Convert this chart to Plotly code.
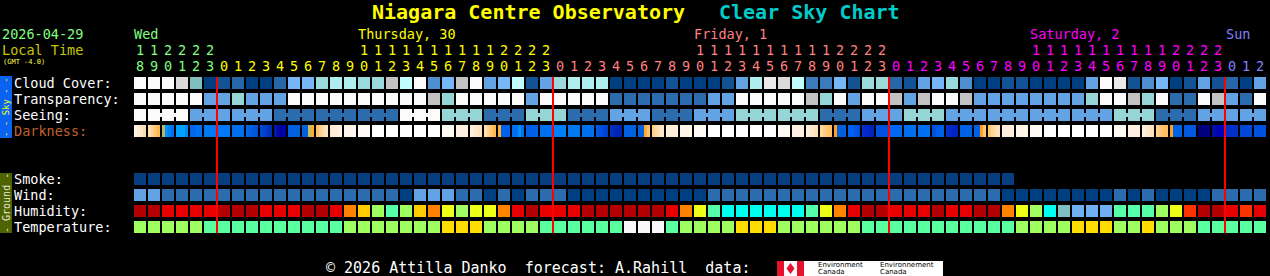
import plotly.graph_objects as go

FIG_W, FIG_H = 1270, 276
MONO = "DejaVu Sans Mono"

# ---------------- text ----------------
TITLE_A = "Niagara Centre Observatory"
TITLE_B = "Clear Sky Chart"
DATE_LABEL = "2026-04-29"
LOCAL_LABEL = "Local Time"
GMT_LABEL = "(GMT -4.0)"
FOOTER = "© 2026 Attilla Danko\u00a0\u00a0forecast: A.Rahill\u00a0\u00a0data:"

# ---------------- hour axis (tick labels) ----------------
WED_HOURS = [18, 19, 20, 21, 22, 23]
THU_HOURS = [0, 1, 2, 3, 4, 5, 6, 7, 8, 9, 10, 11, 12, 13, 14, 15, 16, 17, 18, 19, 20, 21, 22, 23]
FRI_HOURS = [0, 1, 2, 3, 4, 5, 6, 7, 8, 9, 10, 11, 12, 13, 14, 15, 16, 17, 18, 19, 20, 21, 22, 23]
SAT_HOURS = [0, 1, 2, 3, 4, 5, 6, 7, 8, 9, 10, 11, 12, 13, 14, 15, 16, 17, 18, 19, 20, 21, 22, 23]
SUN_HOURS = [0, 1, 2]
DAY_HOURS = [WED_HOURS, THU_HOURS, FRI_HOURS, SAT_HOURS, SUN_HOURS]
DAY_NAMES = ["Wed", "Thursday, 30", "Friday, 1", "Saturday, 2", "Sun"]
DAY_COLORS = ["#80ff80", "#ffff00", "#ff8080", "#ff00ff", "#8080ff"]

ROW_LABELS = ["Cloud Cover:", "Transparency:", "Seeing:", "Darkness:", "", "",
              "Smoke:", "Wind:", "Humidity:", "Temperature:"]

# ---------------- forecast rows (one code per hour) ----------------
CLOUD = list("WWWLT0120026678877G9W" "46GW56915788800001000"
             "158EL9336177215674001" "100005WE1460151205")
TRANSPARENCY = list("WWWWWBBTBBBWWWWWWWWWW" "GTWWWWWBWWWWWDDDDDDDB"
                    "BWWWWWGTWBWWGBGWWGBBB" "BBBBBTWWGTWDDWGBDW")
SEEING = list("WWWWBBBBBBDDDDDDDDDWWW" "TTTDDDTTTDDDBBBDDDBBB"
              "TTTTTTDDDBBBTTTBBBBBB" "BBBBBBTTTDDDBBBBB")
SMOKE = list("SSSSSSSSSSSSSSSSSSSSS" "SSSSSSSSSSSSSSSSSSSSS"
             "SSSSSSSSSSSSSSSSSSSSS" "..................")
WIND = list("LLMMMMMMMMMMMMMMMMMDL" "LLMMDMDMMMDDDDDDDDDDM"
            "MMMMMMMMMMMMMMMMMMMMD" "DDDDDDDMDMDDDDMMMM")
HUMIDITY = list("RRrrrrRRRrrrRRrOYgagY" "OygyyOrRrrrRRRRRRrOya"
                "ccccccayOrRRrrrRrrRRO" "ygctbbbaaagyoRRror")
TEMPERATURE = list("gggggaaaaaaaaaagggggg" "gYYYggggaaaaaaWWWaggg"
                   "gYYYggggggaaaaaaaaaaa" "ggggYYYggYgggaaaaa")

# darkness: colour stops across each hour cell (left -> right)
DARKNESS = [
    ["#fff3e3", "#ffeed6", "#ffe6c4", "#ffdcb0"],  # Wed 18
    ["#ffe0b0", "#ffd090", "#ffc470", "#ffb850"],
    ["#b8b858", "#0090ff", "#0080f8", "#0070f0"],
    ["#00a0ff", "#00a0ff", "#00a0ff", "#0088f8"],
    ["#0066ee", "#0066ee", "#0070f0", "#0070f0"],
    ["#0078f2"],
    ["#0078f8"],                                   # Thu 0
    ["#0070f0"],
    ["#0064e8", "#0060e4", "#0058dc", "#0050d8"],
    ["#0048d8", "#0040d0", "#0038c0", "#0030b0"],
    ["#0018a8", "#0008a0", "#0000a0", "#0000b0"],
    ["#0060e0"],
    ["#0060e0", "#0060e0", "#c0c060", "#ffa830"],
    ["#ffc070", "#ffd090", "#ffdca8", "#ffe4bc"],
    ["#ffeace", "#ffeed8", "#fff0de", "#fff2e2"],
    ["#fff5ea"],
    ["#fffaf4"],
    ["#ffffff"], ["#ffffff"], ["#ffffff"], ["#ffffff"], ["#ffffff"],
    ["#fffaf0"],
    ["#fff0e0"],
    ["#fff0e0", "#ffeace", "#ffe6c6", "#ffe0ba"],
    ["#ffe0b0", "#ffd090", "#ffc470", "#ffb850"],
    ["#ffb030", "#0060f0", "#0060f0", "#0060f0"],
    ["#0070f0", "#0070f0", "#0090ff", "#0070f0"],
    ["#0060e8"],
    ["#0070f0"],
    ["#0080f8"],                                   # Fri 0
    ["#0078f0"],
    ["#0070f0"],
    ["#0058e4", "#0050e0", "#0048d8", "#0040d0"],
    ["#0030c0", "#0028b8", "#0024b4", "#0020b0"],
    ["#0060e0"],
    ["#0060e0", "#0060e0", "#ffa830", "#ffc070"],
    ["#ffd090", "#ffdaa6", "#ffe2b8", "#ffe8c8"],
    ["#ffeed8"],
    ["#fff6ea"],
    ["#fffaf4"],
    ["#ffffff"], ["#ffffff"], ["#ffffff"], ["#ffffff"], ["#ffffff"],
    ["#fffaf0"],
    ["#fff0e0"],
    ["#fff0e0", "#ffeace", "#ffe6c6", "#ffe0ba"],
    ["#ffd8a0", "#ffcc84", "#ffc46c", "#ffc060"],
    ["#ffa020", "#0060e0", "#0060e0", "#0060e0"],
    ["#0060f0", "#0060f0", "#0058e8", "#0050e0"],
    ["#0030d0", "#0028c8", "#0024c4", "#0020c0"],
    ["#0050e0"],
    ["#0068f0"],                                   # Sat 0
    ["#0070f0"],
    ["#0070f0"],
    ["#0050e0", "#0058e4", "#0060e8", "#0060e8"],
    ["#0030d0", "#0028c8", "#0024c4", "#0020c0"],
    ["#0060e8"],
    ["#0060e8", "#0060e8", "#ffa020", "#ffc870"],
    ["#ffc870", "#ffd494", "#ffdcaa", "#ffe2b8"],
    ["#ffeedd"],
    ["#fff4e8"],
    ["#fffaf4"],
    ["#ffffff"], ["#ffffff"], ["#ffffff"], ["#ffffff"], ["#ffffff"],
    ["#fffaf0"],
    ["#fff0e0"],
    ["#fff0e0", "#ffeace", "#ffe6c6", "#ffe0ba"],
    ["#ffd090", "#ffc878", "#ffc068", "#ffc060"],
    ["#ffa020", "#0060e8", "#0060e8", "#0060e8"],
    ["#0058e0"],
    ["#000080", "#000078", "#000080", "#000088"],
    ["#0010a8", "#0008b0", "#0000b8", "#0000c0"],
    ["#0030c8"],                                   # Sun 0
    ["#0048d8"],
    ["#0050e0"],
]

# ---------------- palettes ----------------
CLOUD_PAL = {"0": "#003f7f", "1": "#135393", "2": "#2767a7", "3": "#3b7bbb",
             "4": "#4f8fcf", "5": "#63a3e3", "6": "#77b7f7", "7": "#9adada",
             "8": "#aeeeee", "9": "#c2fefe", "W": "#fbfbfb", "E": "#e9e9e9",
             "L": "#dadada", "G": "#c2c2c2", "T": "#7fbfbf"}
SKY_PAL = {"W": "#fbfbfb", "G": "#c2c2c2", "T": "#95d5d5", "B": "#63a3e3", "D": "#2c6cac"}
SMOKE_PAL = {"S": "#063e7e"}
WIND_PAL = {"L": "#63a3e3", "M": "#2c6cac", "D": "#003f7f"}
HUMID_PAL = {"R": "#b40000", "r": "#e60000", "O": "#ff8200", "o": "#ff3300",
             "Y": "#ffcc00", "y": "#eeff18", "g": "#a0ff60", "a": "#55ffaa",
             "c": "#00ffee", "t": "#7fbfbf", "b": "#70b0f0"}
TEMP_PAL = {"g": "#a0ff60", "a": "#5affa0", "Y": "#ffdd00", "W": "#f8f8f8"}

# ---------------- derived ----------------
HOURS = [h for day in DAY_HOURS for h in day]
N = len(HOURS)
GRID_ROWS = [(CLOUD, CLOUD_PAL), (TRANSPARENCY, SKY_PAL), (SEEING, SKY_PAL), None, None, None,
             (SMOKE, SMOKE_PAL), (WIND, WIND_PAL), (HUMIDITY, HUMID_PAL), (TEMPERATURE, TEMP_PAL)]
NR = len(GRID_ROWS)


def to_colors(codes, pal):
    return [pal.get(c) for c in codes]


row_colors = [to_colors(*r) if r else [None] * N for r in GRID_ROWS]
seeing_cols = row_colors[2]

colors = []
for rc in row_colors:
    for c in rc:
        if c and c not in colors:
            colors.append(c)
for stops in DARKNESS:
    for c in stops:
        if c not in colors:
            colors.append(c)
NC = len(colors)
cidx = {c: k + 0.5 for k, c in enumerate(colors)}
cscale = []
for k, c in enumerate(colors):
    cscale.append([k / NC, c])
    cscale.append([(k + 1) / NC, c])

HALF_W = 6 / 14   # cell half-width in column units (12px of 14px)
HALF_H = 6 / 16   # cell half-height in row units (12px of 16px)

# main grid heatmap (cells with gaps)
xe = []
for i in range(N):
    xe += [i - HALF_W, i + HALF_W]
ye = []
for r in range(NR):
    ye += [r - HALF_H, r + HALF_H]
z = []
for r in range(NR):
    row = []
    for i in range(N):
        c = row_colors[r][i]
        row.append(cidx[c] if c else None)
        if i < N - 1:
            row.append(None)
    z.append(row)
    if r < NR - 1:
        z.append([None] * (2 * N - 1))

common = dict(colorscale=cscale, zmin=0, zmax=NC, showscale=False, hoverinfo="skip")

fig = go.Figure()

# seeing connectors within 3-hour blocks
xs, zs = [], []
for i in range(N - 1):
    xs += [i + HALF_W, i + 1 - HALF_W]
    same_block = HOURS[i + 1] % 3 != 1
    zs.append(cidx[seeing_cols[i]] if same_block else None)
    if i < N - 2:
        zs.append(None)
fig.add_trace(go.Heatmap(x=xs, y=[2 - 2 / 16, 2 + 2 / 16], z=[zs], **common))

fig.add_trace(go.Heatmap(x=xe, y=ye, z=z, **common))

# darkness row with colour stops
xd, zd = [], []
for i, stops in enumerate(DARKNESS):
    if i > 0:
        zd.append(None)
    left = i - HALF_W
    n = len(stops)
    for k in range(n):
        xd.append(left + k * (2 * HALF_W) / n)
        zd.append(cidx[stops[k]])
    xd.append(i + HALF_W)
fig.add_trace(go.Heatmap(x=xd, y=[3 - HALF_H, 3 + HALF_H], z=[zd], **common))

# midnight lines
shapes = []
for i, h in enumerate(HOURS):
    if h == 0 and i > 0:
        shapes.append(dict(type="line", xref="x", yref="y", x0=i - 0.5, x1=i - 0.5,
                           y0=-HALF_H, y1=NR - 1 + HALF_H,
                           line=dict(color="#ff0000", width=2), layer="above"))


def px(xp):
    return xp / FIG_W


def py(yp):
    return 1 - yp / FIG_H


# side bars
shapes.append(dict(type="rect", xref="paper", yref="paper", x0=px(0), x1=px(12),
                   y0=py(138), y1=py(76), fillcolor="#0a62f0", line=dict(width=0)))
shapes.append(dict(type="rect", xref="paper", yref="paper", x0=px(0), x1=px(12),
                   y0=py(233), y1=py(173), fillcolor="#4d6400", line=dict(width=0)))
# Environment Canada logo
shapes.append(dict(type="rect", xref="paper", yref="paper", x0=px(777), x1=px(943),
                   y0=py(276), y1=py(261), fillcolor="#ffffff", line=dict(width=0)))
shapes.append(dict(type="rect", xref="paper", yref="paper", x0=px(777), x1=px(784),
                   y0=py(276), y1=py(261), fillcolor="#e8112d", line=dict(width=0)))
shapes.append(dict(type="rect", xref="paper", yref="paper", x0=px(797), x1=px(804),
                   y0=py(276), y1=py(261), fillcolor="#e8112d", line=dict(width=0)))
shapes.append(dict(type="path", xref="paper", yref="paper",
                   path="M {a},{b} L {c},{d} L {a},{e} L {f},{d} Z".format(
                       a=px(790.5), b=py(263), c=px(794.5), d=py(268.5), e=py(274), f=px(786.5)),
                   fillcolor="#e8112d", line=dict(width=0)))

ann = []


def text(t, xp, yp, color, size=13.5, anchor="left", bold=False, family=MONO, angle=0, xref="paper"):
    ann.append(dict(text=("<b>%s</b>" % t) if bold else t,
                    x=px(xp) if xref == "paper" else xp, xref=xref,
                    y=py(yp), yref="paper", xanchor=anchor, yanchor="middle",
                    showarrow=False, textangle=angle, borderpad=0,
                    font=dict(family=family, size=size, color=color)))


text(TITLE_A, 371, 12, "#ffff00", size=20, bold=True)
text(TITLE_B, 718, 12, "#00cccc", size=20, bold=True)
text(DATE_LABEL, 1, 34, "#80ff80")
text(LOCAL_LABEL, 1, 50, "#c8c800")
text(GMT_LABEL, 2, 62, "#ffff40", size=7)

col = 0
for name, hours, dc in zip(DAY_NAMES, DAY_HOURS, DAY_COLORS):
    lab_col = col + (hours.index(10) if 10 in hours else 0)
    text(name, lab_col - 0.5, 34, dc, anchor="left", xref="x")
    for h in hours:
        if h >= 10:
            text(str(h // 10), col, 50, dc, anchor="center", xref="x")
        text(str(h % 10), col, 66, dc, anchor="center", xref="x")
        col += 1

for r, lab in enumerate(ROW_LABELS):
    if lab:
        text(lab, 13, 83 + 16 * r, "#c0602c" if lab == "Darkness:" else "#ffffff")

text("- - Sky - -", 6, 107, "#ffff00", size=9, anchor="center", angle=-90)
text("- Ground -", 6, 203, "#e8e8d8", size=10, anchor="center", angle=-90)

text(FOOTER, 325, 268, "#ffffff", size=15)
text("Environment", 817, 265, "#000000", size=7, family="DejaVu Sans")
text("Canada", 817, 272, "#000000", size=7, family="DejaVu Sans")
text("Environnement", 879, 265, "#000000", size=7, family="DejaVu Sans")
text("Canada", 879, 272, "#000000", size=7, family="DejaVu Sans")

fig.update_layout(
    width=FIG_W, height=FIG_H, autosize=False,
    margin=dict(l=0, r=0, t=0, b=0, pad=0),
    paper_bgcolor="#000000", plot_bgcolor="#000000",
    showlegend=False,
    xaxis=dict(domain=[133 / FIG_W, 1267 / FIG_W], range=[-0.5, N - 0.5],
               visible=False, fixedrange=True),
    yaxis=dict(domain=[1 - 235 / FIG_H, 1 - 75 / FIG_H], range=[NR - 0.5, -0.5],
               visible=False, fixedrange=True),
    shapes=shapes, annotations=ann,
)

fig.write_html("out.html", config={"displayModeBar": False, "staticPlot": True})
